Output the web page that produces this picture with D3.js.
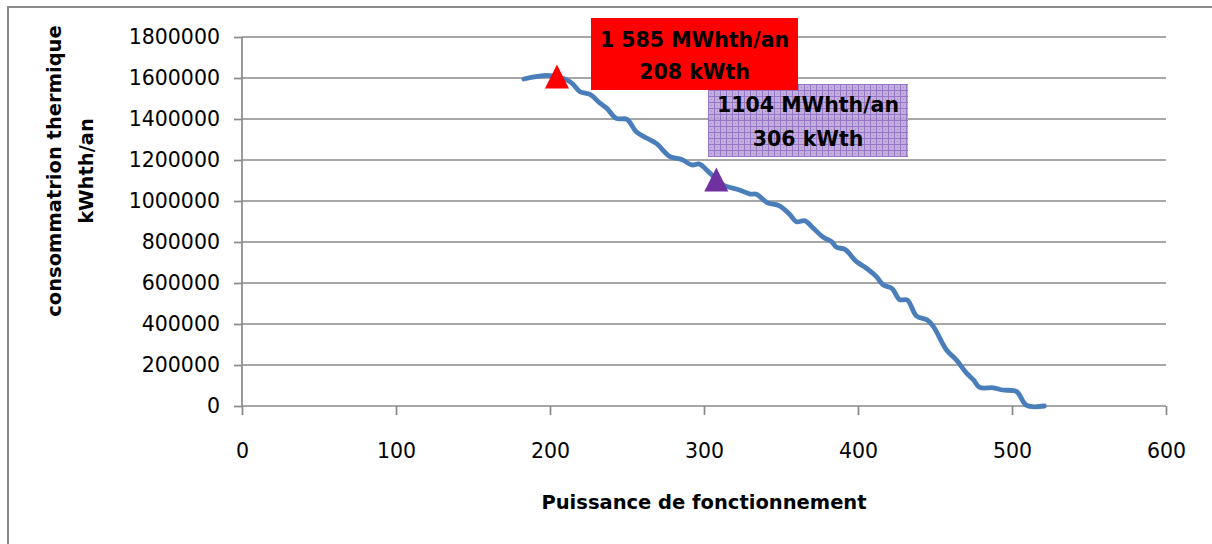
<!DOCTYPE html>
<html><head><meta charset="utf-8">
<script src="https://cdn.jsdelivr.net/npm/d3@7"></script>
<style>
html,body{margin:0;padding:0;background:#fff;}
text{font-family:"DejaVu Sans",sans-serif;fill:#000;}
</style></head>
<body><svg id="c" width="1212" height="544"></svg>
<script>
// ---- data ----
const power = [183, 200, 213, 219.5, 226, 232.5, 237, 243, 250, 256, 263, 269, 278, 285.5, 292, 297, 304, 312.5, 323, 330, 334, 341, 349, 356, 360, 365.5, 371, 377.5, 383, 386, 391.5, 399, 405.5, 412, 416.5, 422, 427, 432, 438, 445, 449, 457.5, 464, 470.5, 475, 479, 488, 494, 503, 509.5, 521];
const conso = [1595000, 1612000, 1582000, 1533000, 1520000, 1477000, 1452000, 1403000, 1398000, 1338000, 1306000, 1281000, 1216000, 1203000, 1176000, 1180000, 1135000, 1078000, 1054000, 1034000, 1033000, 992000, 976000, 932000, 899000, 904000, 867000, 823000, 801000, 774000, 764000, 704000, 672000, 631000, 590000, 574000, 519000, 517000, 439000, 419000, 387000, 273000, 224000, 160000, 127000, 91000, 89000, 78000, 70000, 3000, 0];
const markerNames = ["max", "optimum"];
const markerPower = [204.5, 308];
const markerConso = [1607000, 1105000];
const labelLines = [["1 585 MWhth/an", "208 kWth"], ["1104 MWhth/an", "306 kWth"]];
const xTicks = [0, 100, 200, 300, 400, 500, 600];
const yTicks = [0, 200000, 400000, 600000, 800000, 1000000, 1200000, 1400000, 1600000, 1800000];
const xTitle = "Puissance de fonctionnement";
const yTitle = ["consommatrion thermique", "kWhth/an"];

// ---- layout ----
const svg = d3.select("#c");
const L = 242, R = 1166, T = 37, B = 406;
const x = d3.scaleLinear().domain([0, 600]).range([L, R]);
const y = d3.scaleLinear().domain([0, 1800000]).range([B, T]);

// pattern for purple box
const defs = svg.append("defs");
const pat = defs.append("pattern").attr("id", "grid").attr("width", 6).attr("height", 6).attr("patternUnits", "userSpaceOnUse");
pat.append("rect").attr("width", 6).attr("height", 6).attr("fill", "#bba4d8");
pat.append("path").attr("d", "M0,0.5H6M0.5,0V6").attr("stroke", "#8a62bf").attr("stroke-width", 1);
pat.append("rect").attr("x", 3).attr("y", 3).attr("width", 1).attr("height", 1).attr("fill", "#9a78c8");

// outer border (top + left visible)
svg.append("rect").attr("x", 8).attr("y", 7).attr("width", 1400).attr("height", 800)
  .attr("fill", "none").attr("stroke", "#8a8a8a").attr("stroke-width", 2);

// gridlines
svg.append("g").selectAll("line").data(yTicks.filter(d => d > 0)).join("line")
  .attr("x1", L).attr("x2", R).attr("y1", d => y(d)).attr("y2", d => y(d))
  .attr("stroke", "#8a8a8a").attr("stroke-width", 1.7);

// axes
const gx = svg.append("g").attr("transform", `translate(0,${B})`)
  .call(d3.axisBottom(x).tickValues(xTicks).tickSize(9).tickPadding(28).tickFormat(d3.format("d")));
const gy = svg.append("g").attr("transform", `translate(${L},0)`)
  .call(d3.axisLeft(y).tickValues(yTicks).tickSize(8).tickPadding(14).tickFormat(d3.format("d")));
[gx, gy].forEach(g => {
  g.select(".domain").attr("stroke", "#8a8a8a").attr("stroke-width", 1.7);
  g.selectAll(".tick line").attr("stroke", "#8a8a8a").attr("stroke-width", 1.7);
  g.selectAll(".tick text").attr("font-size", 20.5).attr("fill", "#000")
    .style("font-family", '"DejaVu Sans",sans-serif');
});
gy.select(".domain").attr("d", `M0,${T}V${B}`);
gx.select(".domain").attr("d", `M${L},0H${R}`);

// titles
svg.append("text").attr("x", (L + R) / 2).attr("y", 509).attr("text-anchor", "middle")
  .attr("font-size", 19.5).attr("font-weight", "bold").text(xTitle);
const yt = svg.append("text").attr("transform", "translate(54,171) rotate(-90)")
  .attr("text-anchor", "middle").attr("font-size", 19.5).attr("font-weight", "bold");
yt.selectAll("tspan").data(yTitle).join("tspan")
  .attr("x", 0).attr("dy", (d, i) => i === 0 ? "0.35em" : 32).text(d => d);

// line
const pts = power.map((p, i) => [p, conso[i]]);
svg.append("path").datum(pts)
  .attr("fill", "none").attr("stroke", "#4a7ebb").attr("stroke-width", 4.8)
  .attr("stroke-linejoin", "round").attr("stroke-linecap", "round")
  .attr("d", d3.line().x(d => x(d[0])).y(d => y(d[1])).curve(d3.curveCatmullRom.alpha(0.5)));

// markers
const markerColor = ["#ff0000", "#7030a0"];
svg.append("g").selectAll("path").data(markerNames).join("path")
  .attr("fill", (d, i) => markerColor[i])
  .attr("d", (d, i) => {
    const cx = x(markerPower[i]), cy = y(markerConso[i]);
    const w = 24, h = 24;
    return `M${cx},${cy - h / 2}L${cx + w / 2},${cy + h / 2}L${cx - w / 2},${cy + h / 2}Z`;
  });

// label boxes
const boxes = [
  {x: 591, y: 18, w: 207, h: 72, fill: "#ff0000", op: 1, l1: 46.5, l2: 79},
  {x: 708, y: 84, w: 200, h: 73, fill: "url(#grid)", op: 0.88, l1: 111.5, l2: 146}
];
[1, 0].forEach(i => {
  const b = boxes[i];
  const g = svg.append("g");
  g.append("rect").attr("x", b.x).attr("y", b.y).attr("width", b.w).attr("height", b.h)
    .attr("fill", b.fill).attr("fill-opacity", b.op);
  g.append("text").attr("x", b.x + b.w / 2).attr("y", b.l1).attr("text-anchor", "middle")
    .attr("font-size", 20.5).attr("font-weight", "bold").text(labelLines[i][0]);
  g.append("text").attr("x", b.x + b.w / 2).attr("y", b.l2).attr("text-anchor", "middle")
    .attr("font-size", 20.5).attr("font-weight", "bold").text(labelLines[i][1]);
});
</script></body></html>
